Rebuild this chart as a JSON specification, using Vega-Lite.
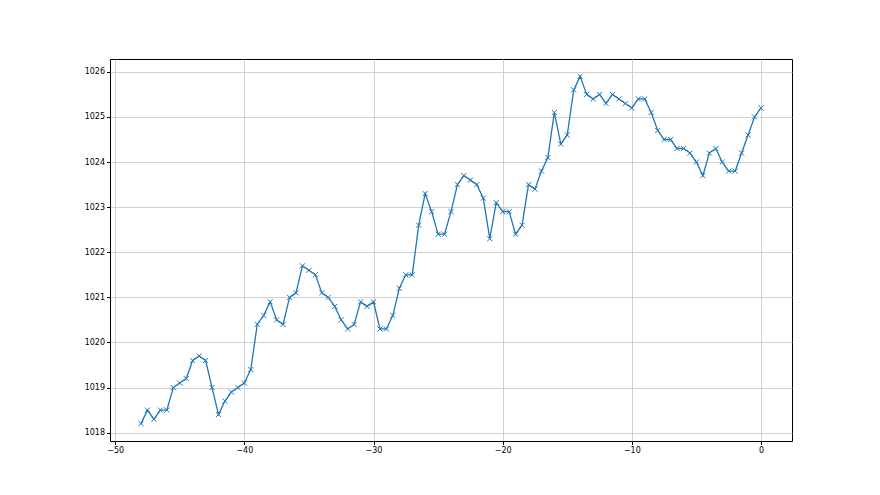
{
  "$schema": "https://vega.github.io/schema/vega-lite/v6.json",
  "width": 682,
  "height": 382,
  "autosize": {"type": "none"},
  "padding": {"left": 110, "top": 59, "right": 88, "bottom": 54},
  "background": "white",
  "config": {
    "view": {"stroke": "black", "strokeWidth": 1},
    "axis": {
      "labelFont": "DejaVu Sans", "labelFontSize": 8, "labelColor": "black",
      "gridColor": "#c4c4c4", "gridWidth": 0.8, "gridOpacity": 1,
      "tickColor": "black", "tickSize": 3.5, "domain": false, "title": null
    }
  },
  "data": {"values": [
    {"x": -48, "y": 1018.2}, {"x": -47.5, "y": 1018.5}, {"x": -47, "y": 1018.3}, {"x": -46.5, "y": 1018.5},
    {"x": -46, "y": 1018.5}, {"x": -45.5, "y": 1019.0}, {"x": -45, "y": 1019.1}, {"x": -44.5, "y": 1019.2},
    {"x": -44, "y": 1019.6}, {"x": -43.5, "y": 1019.7}, {"x": -43, "y": 1019.6}, {"x": -42.5, "y": 1019.0},
    {"x": -42, "y": 1018.4}, {"x": -41.5, "y": 1018.7}, {"x": -41, "y": 1018.9}, {"x": -40.5, "y": 1019.0},
    {"x": -40, "y": 1019.1}, {"x": -39.5, "y": 1019.4}, {"x": -39, "y": 1020.4}, {"x": -38.5, "y": 1020.6},
    {"x": -38, "y": 1020.9}, {"x": -37.5, "y": 1020.5}, {"x": -37, "y": 1020.4}, {"x": -36.5, "y": 1021.0},
    {"x": -36, "y": 1021.1}, {"x": -35.5, "y": 1021.7}, {"x": -35, "y": 1021.6}, {"x": -34.5, "y": 1021.5},
    {"x": -34, "y": 1021.1}, {"x": -33.5, "y": 1021.0}, {"x": -33, "y": 1020.8}, {"x": -32.5, "y": 1020.5},
    {"x": -32, "y": 1020.3}, {"x": -31.5, "y": 1020.4}, {"x": -31, "y": 1020.9}, {"x": -30.5, "y": 1020.8},
    {"x": -30, "y": 1020.9}, {"x": -29.5, "y": 1020.3}, {"x": -29, "y": 1020.3}, {"x": -28.5, "y": 1020.6},
    {"x": -28, "y": 1021.2}, {"x": -27.5, "y": 1021.5}, {"x": -27, "y": 1021.5}, {"x": -26.5, "y": 1022.6},
    {"x": -26, "y": 1023.3}, {"x": -25.5, "y": 1022.9}, {"x": -25, "y": 1022.4}, {"x": -24.5, "y": 1022.4},
    {"x": -24, "y": 1022.9}, {"x": -23.5, "y": 1023.5}, {"x": -23, "y": 1023.7}, {"x": -22.5, "y": 1023.6},
    {"x": -22, "y": 1023.5}, {"x": -21.5, "y": 1023.2}, {"x": -21, "y": 1022.3}, {"x": -20.5, "y": 1023.1},
    {"x": -20, "y": 1022.9}, {"x": -19.5, "y": 1022.9}, {"x": -19, "y": 1022.4}, {"x": -18.5, "y": 1022.6},
    {"x": -18, "y": 1023.5}, {"x": -17.5, "y": 1023.4}, {"x": -17, "y": 1023.8}, {"x": -16.5, "y": 1024.1},
    {"x": -16, "y": 1025.1}, {"x": -15.5, "y": 1024.4}, {"x": -15, "y": 1024.6}, {"x": -14.5, "y": 1025.6},
    {"x": -14, "y": 1025.9}, {"x": -13.5, "y": 1025.5}, {"x": -13, "y": 1025.4}, {"x": -12.5, "y": 1025.5},
    {"x": -12, "y": 1025.3}, {"x": -11.5, "y": 1025.5}, {"x": -11, "y": 1025.4}, {"x": -10.5, "y": 1025.3},
    {"x": -10, "y": 1025.2}, {"x": -9.5, "y": 1025.4}, {"x": -9, "y": 1025.4}, {"x": -8.5, "y": 1025.1},
    {"x": -8, "y": 1024.7}, {"x": -7.5, "y": 1024.5}, {"x": -7, "y": 1024.5}, {"x": -6.5, "y": 1024.3},
    {"x": -6, "y": 1024.3}, {"x": -5.5, "y": 1024.2}, {"x": -5, "y": 1024.0}, {"x": -4.5, "y": 1023.7},
    {"x": -4, "y": 1024.2}, {"x": -3.5, "y": 1024.3}, {"x": -3, "y": 1024.0}, {"x": -2.5, "y": 1023.8},
    {"x": -2, "y": 1023.8}, {"x": -1.5, "y": 1024.2}, {"x": -1, "y": 1024.6}, {"x": -0.5, "y": 1025.0},
    {"x": 0, "y": 1025.2}
  ]},
  "encoding": {
    "x": {"field": "x", "type": "quantitative",
      "scale": {"domain": [-50.4, 2.4], "nice": false, "zero": false},
      "axis": {"values": [-50, -40, -30, -20, -10, 0], "labelPadding": 2}},
    "y": {"field": "y", "type": "quantitative",
      "scale": {"domain": [1017.815, 1026.285], "nice": false, "zero": false},
      "axis": {"values": [1018, 1019, 1020, 1021, 1022, 1023, 1024, 1025, 1026], "format": "d", "labelPadding": 2}}
  },
  "layer": [
    {"mark": {"type": "line", "color": "#1f77b4", "strokeWidth": 1.3}},
    {"mark": {"type": "point", "shape": "M-1,-1L1,1M-1,1L1,-1", "filled": false, "color": "#1f77b4", "size": 26, "strokeWidth": 1, "opacity": 1}}
  ]
}
